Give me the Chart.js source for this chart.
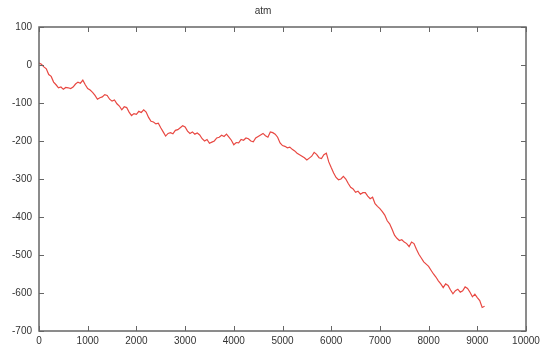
<!DOCTYPE html>
<html>
<head>
<meta charset="utf-8">
<script src="https://cdn.jsdelivr.net/npm/chart.js@4"></script>
<style>
  body { margin: 0; background: #fff; }
</style>
</head>
<body>
<canvas id="chart" width="550" height="352"></canvas>
<script>
// data (every 50 steps)
const xValues = [
  0, 50, 100, 150, 200, 250, 300, 350, 400, 450,
  500, 550, 600, 650, 700, 750, 800, 850, 900, 950,
  1000, 1050, 1100, 1150, 1200, 1250, 1300, 1350, 1400, 1450,
  1500, 1550, 1600, 1650, 1700, 1750, 1800, 1850, 1900, 1950,
  2000, 2050, 2100, 2150, 2200, 2250, 2300, 2350, 2400, 2450,
  2500, 2550, 2600, 2650, 2700, 2750, 2800, 2850, 2900, 2950,
  3000, 3050, 3100, 3150, 3200, 3250, 3300, 3350, 3400, 3450,
  3500, 3550, 3600, 3650, 3700, 3750, 3800, 3850, 3900, 3950,
  4000, 4050, 4100, 4150, 4200, 4250, 4300, 4350, 4400, 4450,
  4500, 4550, 4600, 4650, 4700, 4750, 4800, 4850, 4900, 4950,
  5000, 5050, 5100, 5150, 5200, 5250, 5300, 5350, 5400, 5450,
  5500, 5550, 5600, 5650, 5700, 5750, 5800, 5850, 5900, 5950,
  6000, 6050, 6100, 6150, 6200, 6250, 6300, 6350, 6400, 6450,
  6500, 6550, 6600, 6650, 6700, 6750, 6800, 6850, 6900, 6950,
  7000, 7050, 7100, 7150, 7200, 7250, 7300, 7350, 7400, 7450,
  7500, 7550, 7600, 7650, 7700, 7750, 7800, 7850, 7900, 7950,
  8000, 8050, 8100, 8150, 8200, 8250, 8300, 8350, 8400, 8450,
  8500, 8550, 8600, 8650, 8700, 8750, 8800, 8850, 8900, 8950,
  9000, 9050, 9100, 9150
];
const atmValues = [
  5, 2, -5, -10, -25, -30, -45, -52, -60, -58,
  -64, -59, -60, -62, -58, -50, -45, -48, -40, -52,
  -62, -66, -72, -80, -90, -86, -84, -78, -80, -90,
  -95, -92, -102, -108, -118, -110, -112, -124, -133, -128,
  -130, -122, -125, -118, -124, -138, -148, -150, -155, -153,
  -165, -176, -187, -180, -178, -181, -172, -170, -165, -160,
  -163, -174, -180, -176, -182, -179, -184, -194, -200, -196,
  -206, -203, -200, -192, -190, -185, -188, -182, -190, -198,
  -210, -204, -205, -196, -198, -192, -194, -200, -202, -192,
  -188, -184, -180, -186, -190, -176, -178, -182, -190, -205,
  -212, -214, -218, -216, -222, -226, -232, -236, -240, -244,
  -250, -245, -240, -230, -235, -244, -246, -236, -232, -255,
  -270, -284, -296, -302, -300, -293, -300, -312, -322, -326,
  -335, -332, -340, -336, -336, -345, -352, -348, -365, -372,
  -378, -386, -395, -410, -418, -432, -448, -456, -462, -460,
  -466, -470, -478, -466, -470, -485, -498, -508, -518, -524,
  -530, -540, -550, -558, -568, -576, -586, -576, -580, -592,
  -602, -594, -590, -598, -594, -584, -588, -598, -610, -603,
  -612, -620, -638, -635
];
const xTicks = [0, 1000, 2000, 3000, 4000, 5000, 6000, 7000, 8000, 9000, 10000];
const yTicks = [100, 0, -100, -200, -300, -400, -500, -600, -700];

const borderColor = "#666";
const textColor = "#333";

// gnuplot style: box around the plot, short ticks pointing inward on all sides
const boxPlugin = {
  id: "box",
  afterDraw(chart) {
    const ctx = chart.ctx;
    const a = chart.chartArea;
    const xs = chart.scales.x;
    const ys = chart.scales.y;
    ctx.save();
    ctx.strokeStyle = borderColor;
    ctx.lineWidth = 1.5;
    ctx.strokeRect(a.left, a.top, a.right - a.left, a.bottom - a.top);
    ctx.lineWidth = 1;
    ctx.beginPath();
    xTicks.forEach((v) => {
      const px = Math.round(xs.getPixelForValue(v)) + 0.5;
      ctx.moveTo(px, a.bottom);
      ctx.lineTo(px, a.bottom - 5);
      ctx.moveTo(px, a.top);
      ctx.lineTo(px, a.top + 5);
    });
    yTicks.forEach((v) => {
      const py = Math.round(ys.getPixelForValue(v)) + 0.5;
      ctx.moveTo(a.left, py);
      ctx.lineTo(a.left + 5, py);
      ctx.moveTo(a.right, py);
      ctx.lineTo(a.right - 5, py);
    });
    ctx.stroke();
    ctx.restore();
  },
};

new Chart(document.getElementById("chart"), {
  type: "line",
  data: {
    datasets: [
      {
        label: "atm",
        data: xValues.map((x, i) => ({ x: x, y: atmValues[i] })),
        borderColor: "rgb(232, 72, 66)",
        borderWidth: 1.2,
        pointRadius: 0,
        tension: 0,
        fill: false,
      },
    ],
  },
  options: {
    responsive: false,
    animation: false,
    layout: { padding: { left: 0, right: 24, top: 0, bottom: 0 } },
    plugins: {
      legend: { display: false },
      tooltip: { enabled: false },
      title: {
        display: true,
        text: "atm",
        color: textColor,
        font: { family: "Liberation Sans", size: 10, weight: "normal", lineHeight: 1.2 },
        padding: { top: 5, bottom: 10 },
      },
    },
    scales: {
      x: {
        type: "linear",
        min: 0,
        max: 10000,
        afterBuildTicks: (s) => { s.ticks = xTicks.map((v) => ({ value: v })); },
        afterFit: (s) => { s.height = 21; },
        grid: { display: false, drawTicks: false },
        border: { display: false },
        ticks: {
          color: textColor,
          font: { family: "Liberation Sans", size: 10 },
          padding: 4,
          maxRotation: 0,
          callback: (v) => String(v),
        },
      },
      y: {
        type: "linear",
        min: -700,
        max: 100,
        afterBuildTicks: (s) => { s.ticks = yTicks.map((v) => ({ value: v })); },
        afterFit: (s) => { s.width = 39; },
        grid: { display: false, drawTicks: false },
        border: { display: false },
        ticks: {
          color: textColor,
          font: { family: "Liberation Sans", size: 10 },
          padding: 7,
          callback: (v) => String(v),
        },
      },
    },
  },
  plugins: [boxPlugin],
});
</script>
</body>
</html>
